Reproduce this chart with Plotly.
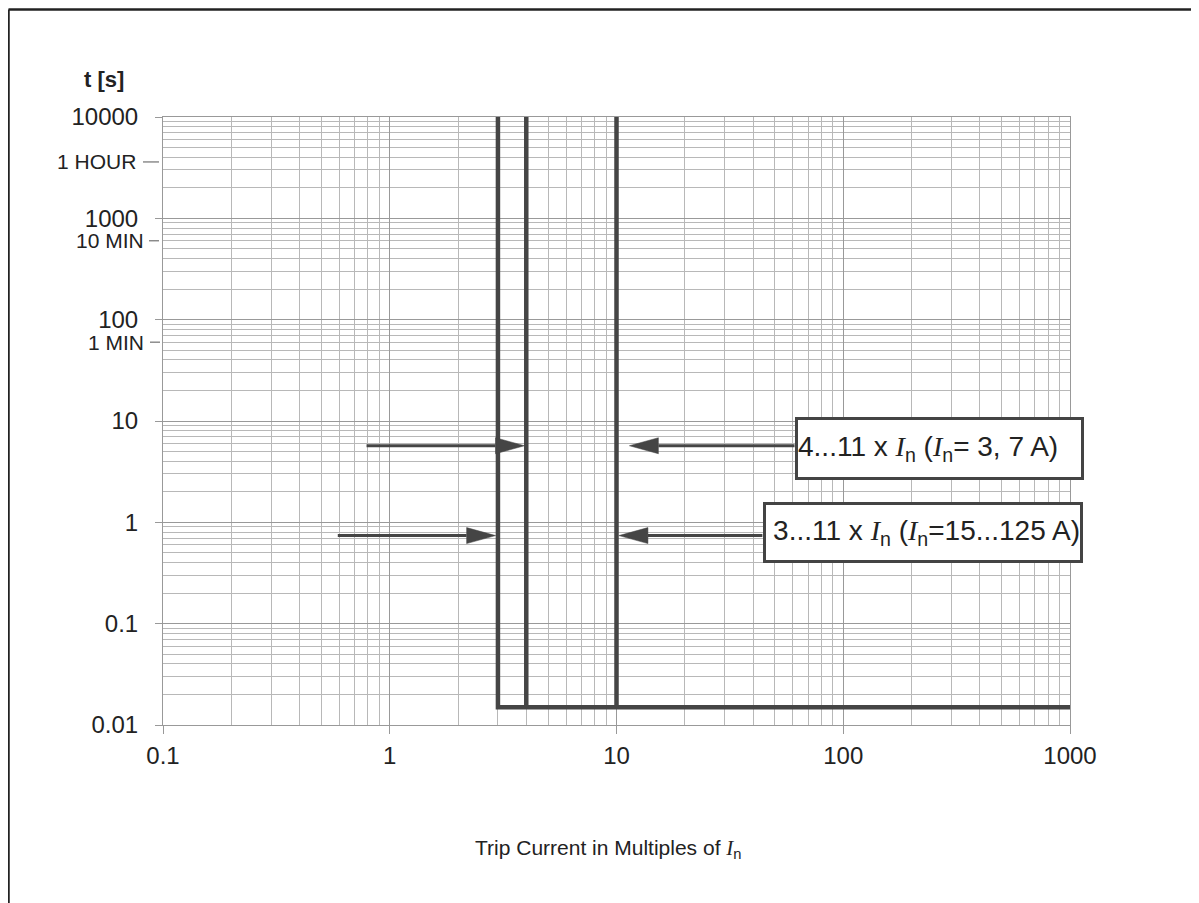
import math
import plotly.graph_objects as go

# ---------------- data ----------------
trip_x = [3, 4, 10]            # vertical trip limits (multiples of In)
t_top = 10000                  # top of the vertical limits (s)
t_floor = 0.015                # instantaneous trip time (s)
x_end = 1000                   # end of the horizontal limit

x_tick_vals = [0.1, 1, 10, 100, 1000]
x_tick_text = ["0.1", "1", "10", "100", "1000"]
y_tick_vals = [0.01, 0.1, 1, 10, 100, 1000, 10000]
y_tick_text = ["0.01", "0.1", "1", "10", "100", "1000", "10000"]
time_vals = [3600, 600, 60]
time_text = ["1 HOUR", "10 MIN", "1 MIN"]

arrow_y = [5.7, 5.7, 0.74, 0.74]
arrow_tail = [0.79, 61, 0.59, 44]
arrow_tip = [3.93, 11.4, 2.93, 10.25]

I_n = '<span style="font-family:\'Liberation Serif\'"><i>I</i></span><sub>n</sub>'
box_text = ["4...11 x " + I_n + " (" + I_n + "= 3, 7 A)",
            "3...11 x " + I_n + " (" + I_n + "=15...125 A)"]

# ---------------- layout geometry (page pixels) ----------------
OFF = 8                         # page body margin
PAGE_W, PAGE_H = 1199, 903
PL, PR, PT, PB = 163, 1070, 117, 725   # plot area in page pixels
W, H = PAGE_W - OFF, PAGE_H - OFF
ML, MT = PL - OFF, PT - OFF
PW, PH = PR - PL, PB - PT
MR, MB = W - ML - PW, H - MT - PH
XR, YR = [-1, 3], [-2, 4]
ppd_x = PW / (XR[1] - XR[0])
ppd_y = PH / (YR[1] - YR[0])

def px_x(p):   # page pixel x -> paper
    return (p - PL) / PW

def px_y(p):   # page pixel y -> paper
    return (PB - p) / PH

LINE = "#454545"
fig = go.Figure()

# trip characteristic
cx, cy = [], []
for i, xv in enumerate(trip_x):
    cx += [xv, xv]
    cy += [t_top, t_floor]
    if i == 0:
        cx += [x_end]
        cy += [t_floor]
    cx += [None]
    cy += [None]
fig.add_trace(go.Scatter(x=cx, y=cy, mode="lines",
                         line=dict(color=LINE, width=4.5),
                         hoverinfo="skip", showlegend=False))

# arrows
head_len = 29 / ppd_x      # decades
head_half = 8 / ppd_y      # decades
for ty, tail, tip in zip(arrow_y, arrow_tail, arrow_tip):
    d = 1 if tip > tail else -1
    base = tip / 10 ** (d * head_len)
    fig.add_trace(go.Scatter(x=[tail, base], y=[ty, ty], mode="lines",
                             line=dict(color=LINE, width=3),
                             hoverinfo="skip", showlegend=False))
    fig.add_trace(go.Scatter(x=[tip, base, base, tip],
                             y=[ty, ty * 10 ** head_half, ty / 10 ** head_half, ty],
                             mode="lines", fill="toself", fillcolor=LINE,
                             line=dict(color=LINE, width=0.5),
                             hoverinfo="skip", showlegend=False))

# minor grid positions
def minors(lo, hi):
    out = []
    for d in range(lo, hi):
        for k in range(2, 10):
            out.append(k * 10 ** d)
    return out

FONT = "Liberation Sans, Arial, sans-serif"
TXT = "#222222"
fig.update_xaxes(type="log", range=XR, tickmode="array",
                 tickvals=x_tick_vals, ticktext=x_tick_text,
                 ticks="outside", ticklen=8, tickcolor="#999999", tickwidth=1,
                 ticklabelstandoff=1,
                 showgrid=True, gridcolor="#999999", gridwidth=1,
                 showline=True, mirror=True, linecolor="#999999", linewidth=1,
                 zeroline=False,
                 minor=dict(tickmode="array", tickvals=minors(-1, 3), showgrid=True,
                            gridcolor="#b8b8b8", gridwidth=1, ticks=""),
                 tickfont=dict(family=FONT, size=24, color=TXT))
fig.update_yaxes(type="log", range=YR, tickmode="array",
                 tickvals=y_tick_vals, ticktext=y_tick_text,
                 ticks="outside", ticklen=7, tickcolor="#999999", tickwidth=1,
                 ticklabelstandoff=12,
                 showgrid=True, gridcolor="#999999", gridwidth=1,
                 showline=True, mirror=True, linecolor="#999999", linewidth=1,
                 zeroline=False,
                 minor=dict(tickmode="array", tickvals=minors(-2, 4), showgrid=True,
                            gridcolor="#b8b8b8", gridwidth=1, ticks=""),
                 tickfont=dict(family=FONT, size=24, color=TXT))

annotations = []
shapes = []
# time labels with dashes
dash_px = [(143, 159), (149, 159), (150, 160)]
text_right_px = [138, 146, 146]
for tv, tt, (d0, d1), tr in zip(time_vals, time_text, dash_px, text_right_px):
    yp = (math.log10(tv) - YR[0]) / (YR[1] - YR[0])
    annotations.append(dict(x=px_x(tr), y=yp, xref="paper", yref="paper",
                            text=tt, showarrow=False, xanchor="right", yanchor="middle",
                            font=dict(family=FONT, size=21, color=TXT)))
    shapes.append(dict(type="line", xref="paper", yref="paper",
                       x0=px_x(d0), x1=px_x(d1), y0=yp, y1=yp,
                       line=dict(color="#555555", width=1)))

# y-axis title
annotations.append(dict(x=px_x(104), y=px_y(79), xref="paper", yref="paper",
                        text="<b>t [s]</b>", showarrow=False,
                        xanchor="center", yanchor="middle",
                        font=dict(family=FONT, size=22, color=TXT)))
# x-axis title
annotations.append(dict(x=px_x(608), y=px_y(849), xref="paper", yref="paper",
                        text="Trip Current in Multiples of " + I_n, showarrow=False,
                        xanchor="center", yanchor="middle",
                        font=dict(family=FONT, size=21, color=TXT)))

# label boxes
boxes = [(795, 1084, 417, 480, "left"), (763, 1083, 502, 563, "right")]
for (x0, x1, y0, y1, al), bt in zip(boxes, box_text):
    annotations.append(dict(x=px_x(x0), y=px_y(y0), xref="paper", yref="paper",
                            xanchor="left", yanchor="top", text=bt, showarrow=False,
                            width=x1 - x0 - 6, height=y1 - y0 - 6, align=al,
                            valign="middle",
                            bgcolor="white", bordercolor="#444444", borderwidth=3,
                            borderpad=0,
                            font=dict(family=FONT, size=28, color=TXT)))

# outer page frame (top and left edges)
shapes.append(dict(type="line", xref="paper", yref="paper",
                   x0=px_x(8.5), x1=px_x(1210), y0=px_y(9.5), y1=px_y(9.5),
                   line=dict(color="#222222", width=2.5)))
shapes.append(dict(type="line", xref="paper", yref="paper",
                   x0=px_x(8.5), x1=px_x(8.5), y0=px_y(9.5), y1=px_y(915),
                   line=dict(color="#222222", width=2.5)))

fig.update_layout(width=W, height=H,
                  margin=dict(l=ML, r=MR, t=MT, b=MB, autoexpand=False),
                  paper_bgcolor="white", plot_bgcolor="white",
                  showlegend=False, annotations=annotations, shapes=shapes,
                  font=dict(family=FONT, color=TXT))

fig.write_html("out.html")
